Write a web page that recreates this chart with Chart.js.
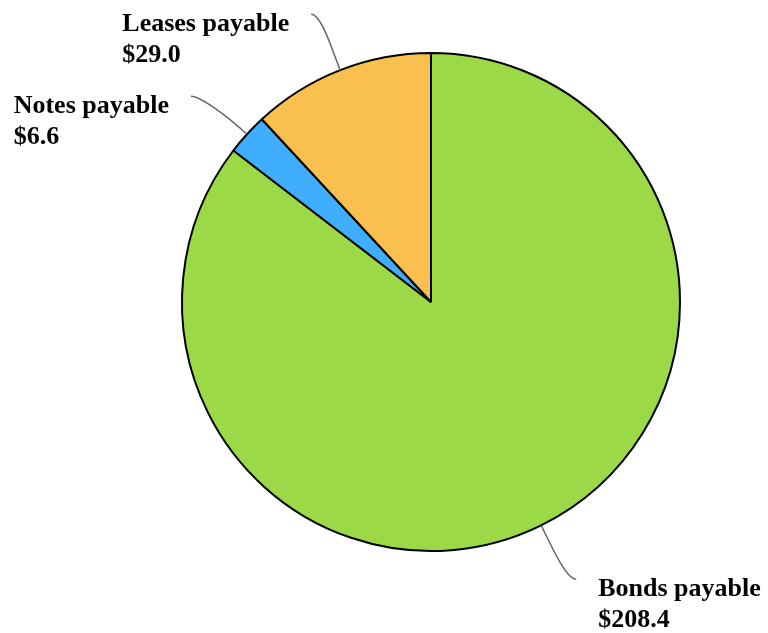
<!DOCTYPE html>
<html>
<head>
<meta charset="utf-8">
<title>Debt payable</title>
<script src="https://cdn.jsdelivr.net/npm/chart.js@4.4.1/dist/chart.umd.min.js"></script>
<style>
  html, body { margin: 0; padding: 0; background: #fff; }
  #wrap { width: 768px; height: 633px; position: relative; }
</style>
</head>
<body>
<div id="wrap"><canvas id="debtChart"></canvas></div>
<script>
// Categories and amounts ($)
const categories = ['Bonds payable', 'Notes payable', 'Leases payable'];
const amounts = [208.4, 6.6, 29.0];
const sliceColors = ['#9BD946', '#40AEFF', '#F9C04F'];

// Where each outside label sits, relative to the slice edge (dx, dy of leader end)
const leaderEnds = [
    { dx: 35, dy: 54 },
    { dx: -56, dy: -38 },
    { dx: -29, dy: -56 }
];

const labelFont = 'bold 26px "Liberation Serif", "Times New Roman", serif';

// Draws the curved leader lines and the two-line labels
const outsideLabels = {
    id: 'outsideLabels',
    afterDatasetsDraw(chart) {
        const ctx = chart.ctx;
        const meta = chart.getDatasetMeta(0);
        meta.data.forEach((arc, i) => {
            const p = arc.getProps(['x', 'y', 'startAngle', 'endAngle', 'outerRadius'], true);
            const mid = (p.startAngle + p.endAngle) / 2;
            const dirX = Math.cos(mid), dirY = Math.sin(mid);
            const sx = p.x + dirX * p.outerRadius;
            const sy = p.y + dirY * p.outerRadius;
            const ex = sx + leaderEnds[i].dx;
            const ey = sy + leaderEnds[i].dy;
            const side = ex > p.x ? 1 : -1;

            ctx.save();
            ctx.strokeStyle = '#666';
            ctx.lineWidth = 1.5;
            ctx.beginPath();
            ctx.moveTo(sx, sy);
            ctx.bezierCurveTo(sx + dirX * 25, sy + dirY * 25, ex - side * 10, ey, ex, ey);
            ctx.stroke();

            const lines = [categories[i], '$' + amounts[i].toFixed(1)];
            ctx.font = labelFont;
            ctx.fillStyle = '#000';
            ctx.textBaseline = 'alphabetic';
            ctx.textAlign = 'left';
            const w = Math.max(...lines.map(t => ctx.measureText(t).width));
            const tx = side > 0 ? ex + 22 : ex - 22 - w;
            lines.forEach((t, k) => {
                ctx.fillText(t, tx, ey + 17 + k * 31);
            });
            ctx.restore();
        });
    }
};

new Chart(document.getElementById('debtChart'), {
    type: 'pie',
    data: {
        labels: categories,
        datasets: [{
            data: amounts,
            backgroundColor: sliceColors,
            borderColor: '#000',
            borderWidth: 2
        }]
    },
    options: {
        responsive: true,
        maintainAspectRatio: false,
        animation: false,
        layout: { padding: { left: 181, right: 87, top: 52, bottom: 81 } },
        plugins: {
            legend: { display: false },
            tooltip: { enabled: false }
        }
    },
    plugins: [outsideLabels]
});
</script>
</body>
</html>
